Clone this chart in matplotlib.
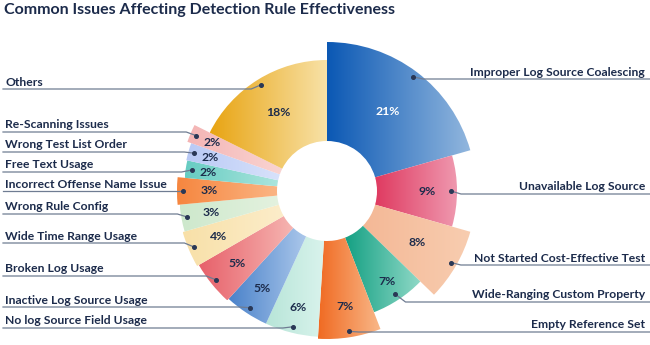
import matplotlib.pyplot as plt
import numpy as np
from matplotlib.colors import LinearSegmentedColormap

# data, clockwise from 12 o'clock
categories = ["Improper Log Source Coalescing", "Unavailable Log Source",
              "Not Started Cost-Effective Test", "Wide-Ranging Custom Property",
              "Empty Reference Set", "No log Source Field Usage",
              "Inactive Log Source Usage", "Broken Log Usage",
              "Wide Time Range Usage", "Wrong Rule Config",
              "Incorrect Offense Name Issue", "Free Text Usage",
              "Wrong Test List Order", "Re-Scanning Issues", "Others"]
shares = [21, 9, 8, 7, 7, 6, 5, 5, 4, 3, 3, 2, 2, 2, 18]

# styling (pixel units)
outer_r = [149, 130, 149, 130, 148, 146, 146, 148, 150, 148, 150, 143, 144, 148, 131]
pct_r = [100, 100, 104, 108, 117, 120, 117, 116, 118, 118, 118, 120, 121, 125, 92]
line_y = [79, 194, 265, 302, 332, 328, 307, 276, 243, 214, 191, 172, 152, 132, 89]
side = ["R"] * 5 + ["L"] * 10
grads = [("#0b58b4", "#92b7de"), ("#df3a60", "#ef98af"), ("#f4b896", "#f8cdb0"),
         ("#14a083", "#90d9c7"), ("#f06a22", "#f9b889"), ("#b7e5d8", "#d9f3ec"),
         ("#4a82ca", "#acc8eb"), ("#e7606a", "#f6b6b2"), ("#f8e0a8", "#fcedca"),
         ("#cde8cc", "#e4f2df"), ("#f6863f", "#fbb584"), ("#66ccc2", "#ace5dd"),
         ("#b8c9f5", "#d8e2fb"), ("#f4b4b4", "#f9d4d2"), ("#e8a412", "#f8e2a8")]

inner_r = 50
cx, cy = 327, 191
navy = "#1c2b4b"
line_col = "#6f7c92"
plt.rcParams['font.family'] = ['Lato', 'DejaVu Sans']


def X(px):
    return px - cx


def Y(py):
    return cy - py


fig = plt.figure(figsize=(6.5, 3.45), dpi=100)
ax = fig.add_axes([0, 0, 1, 1])

wedges, _ = ax.pie(shares, startangle=90, counterclock=False, radius=1,
                   wedgeprops=dict(width=0.5))

for w, r, (c1, c2) in zip(wedges, outer_r, grads):
    w.set_radius(r)
    w.set_width(r - inner_r)
    w.set_facecolor('none')
    w.set_edgecolor('none')
    x0, y0, x1, y1 = w.get_path().get_extents().extents
    cmap = LinearSegmentedColormap.from_list('g', [c1, c2])
    im = ax.imshow(np.linspace(0, 1, 256)[None, :], cmap=cmap,
                   extent=(x0, x1, y0, y1), aspect='auto', zorder=1,
                   interpolation='bilinear')
    im.set_clip_path(w)

for i, w in enumerate(wedges):
    mid = np.deg2rad((w.theta1 + w.theta2) / 2)
    # percentage label
    pr = pct_r[i]
    ax.text(pr * np.cos(mid), pr * np.sin(mid), f"{shares[i]}%",
            ha='center', va='center', fontsize=8.8, fontweight='bold',
            color='white' if i == 0 else navy, zorder=4)
    # leader line + dot
    rd = outer_r[i] - 6
    dx, dy = rd * np.cos(mid), rd * np.sin(mid)
    ly = Y(line_y[i])
    if side[i] == "R":
        xs = [dx, dx + 10, X(650)]
        ax.text(X(645), ly + 3.5, categories[i], ha='right', va='baseline',
                fontsize=8.7, fontweight='bold', color=navy)
    else:
        xs = [dx, dx - 10, X(3)]
        ax.text(X(5), ly + 3.5, categories[i], ha='left', va='baseline',
                fontsize=8.7, fontweight='bold', color=navy)
    ax.plot(xs, [dy, ly, ly], color=line_col, lw=0.9, zorder=3)
    ax.plot([dx], [dy], 'o', ms=2.6, color="#2a3856", zorder=5)

ax.text(X(4), Y(10), "Common Issues Affecting Detection Rule Effectiveness",
        ha='left', va='center', fontsize=11.5, fontweight='bold', color=navy)

ax.set_aspect('equal')
ax.set_xlim(X(0), X(650))
ax.set_ylim(Y(345), Y(0))
ax.axis('off')

fig.savefig('out.png', dpi=100)
